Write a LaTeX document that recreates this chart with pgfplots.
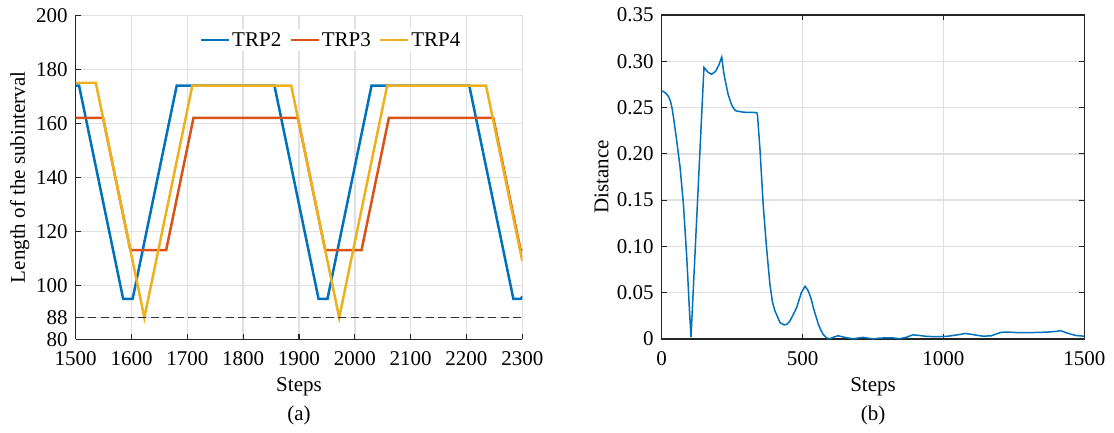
\documentclass[border=0pt]{standalone}
\usepackage{fontspec}
\setmainfont{Liberation Serif}
\usepackage{pgfplots}
\pgfplotsset{compat=1.18}

\definecolor{mblue}{rgb}{0,0.447,0.741}
\definecolor{mred}{rgb}{0.85,0.325,0.098}
\definecolor{myellow}{rgb}{0.929,0.694,0.125}
\definecolor{axgray}{rgb}{0.15,0.15,0.15}
\definecolor{gridgray}{rgb}{0.88,0.88,0.88}

\newcommand{\figfont}{\fontsize{21}{23}\selectfont}

\pgfplotsset{
  mystyle/.style={
    scale only axis,
    font=\figfont,
    tick label style={font=\figfont},
    label style={font=\figfont},
    xticklabel style={yshift=-8.5pt},
    yticklabel style={xshift=-4.5pt},
    /pgf/number format/assume math mode=true,
    /pgf/number format/1000 sep={},
    axis line style={axgray, line width=1.1pt},
    tick style={axgray, line width=1.1pt},
    major tick length=5pt,
    tick align=inside,
    grid=major,
    major grid style={gridgray, line width=1.4pt},
  }
}

\begin{document}
\begin{tikzpicture}[x=1pt,y=1pt]
\path[use as bounding box] (0,0) rectangle (1114,432);

% (a) length of the subinterval
\begin{axis}[mystyle,
  at={(75.7pt,92.7pt)}, anchor=south west,
  width=446.6pt, height=324pt,
  axis lines*=left,
  xmin=1500, xmax=2300, ymin=80, ymax=200,
  xtick={1500,1600,...,2300},
  ytick={80,88,100,120,140,160,180,200},
  xlabel={Steps}, ylabel={Length of the subinterval},
  every axis x label/.style={at={(axis description cs:0.5,-0.148)}, anchor=center},
  every axis y label/.style={at={(axis description cs:-0.1254,0.5)}, rotate=90, anchor=center},
  legend columns=3,
  legend style={at={(0.5717,0.9238)}, anchor=center, draw=none, fill=white,
    font=\figfont, inner sep=1pt,
    /tikz/every even column/.style={column sep=6pt}},
  legend image code/.code={\draw[#1] (0pt,0pt) -- (28pt,0pt);},
]
\addplot[mblue, line width=2.5pt] coordinates {
  (1500,174) (1506,174) (1585,95) (1602,95) (1681,174) (1856,174)
  (1935,95) (1951,95) (2030,174) (2205,174) (2284,95) (2298,95) (2300,96)};
\addlegendentry{TRP2}
\addplot[mred, line width=2.5pt] coordinates {
  (1500,162) (1549,162) (1598,113) (1662,113) (1711,162) (1898,162)
  (1947,113) (2012,113) (2061,162) (2248,162) (2297,113) (2300,113)};
\addlegendentry{TRP3}
\addplot[myellow, line width=2.5pt] coordinates {
  (1500,175) (1536,175) (1623,88) (1709,174) (1886,174) (1972,88)
  (2058,174) (2235,174) (2300,109)};
\addlegendentry{TRP4}
\addplot[black!80, line width=1.2pt, dash pattern=on 8pt off 4.5pt, forget plot]
  coordinates {(1500,88) (2300,88)};
\end{axis}

% (b) distance
\begin{axis}[mystyle,
  at={(661.7pt,93pt)}, anchor=south west,
  width=422.6pt, height=324pt,
  xmin=0, xmax=1500, ymin=0, ymax=0.35,
  xtick={0,500,1000,1500},
  ytick={0,0.05,0.10,0.15,0.20,0.25,0.30,0.35},
  yticklabels={0,0.05,0.10,0.15,0.20,0.25,0.30,0.35},
  xtick pos=both, ytick pos=both,
  xlabel={Steps}, ylabel={Distance},
  every axis x label/.style={at={(axis description cs:0.5,-0.148)}, anchor=center},
  every axis y label/.style={at={(axis description cs:-0.1422,0.5)}, rotate=90, anchor=center},
]
\addplot[mblue, line width=1.5pt] coordinates {
  (0,0.268) (8,0.267) (16,0.265) (24,0.262) (31,0.257) (37,0.249) (43,0.237)
  (53,0.215) (65,0.186) (77,0.146) (89,0.088) (98,0.034) (104,0.002)
  (150,0.2934) (165,0.288) (177,0.286) (191,0.289) (203,0.296) (213,0.3046)
  (220,0.288) (225,0.280) (236,0.264) (248,0.253) (258,0.248) (264,0.2464)
  (290,0.245) (337,0.2446) (340,0.242) (349,0.204) (360,0.146) (372,0.099)
  (384,0.0593) (393,0.040) (402,0.0304) (420,0.0177) (434,0.0152) (445,0.016)
  (455,0.0195) (468,0.027) (479,0.034) (496,0.0503) (509,0.0570) (520,0.052)
  (530,0.044) (538,0.034) (547,0.025) (556,0.0159) (565,0.0095) (573,0.005)
  (584,0.0015) (595,0.0002) (610,0.002) (626,0.0035) (640,0.0025) (656,0.0014)
  (680,0.0002) (700,0.0012) (715,0.0018) (735,0.0008) (751,0.0002) (775,0.001)
  (798,0.0012) (820,0.0012) (845,0.0003) (870,0.002) (891,0.0045) (915,0.0038)
  (941,0.0028) (980,0.0025) (1016,0.003) (1050,0.0045) (1078,0.006) (1110,0.0045)
  (1141,0.003) (1170,0.0035) (1204,0.0072) (1230,0.0075) (1266,0.0068) (1320,0.007)
  (1366,0.0074) (1400,0.0082) (1416,0.009) (1441,0.0062) (1470,0.0038) (1500,0.0030)};
\end{axis}

\node[font=\figfont] at (299,17) {(a)};
\node[font=\figfont] at (873,17) {(b)};
\end{tikzpicture}
\end{document}
